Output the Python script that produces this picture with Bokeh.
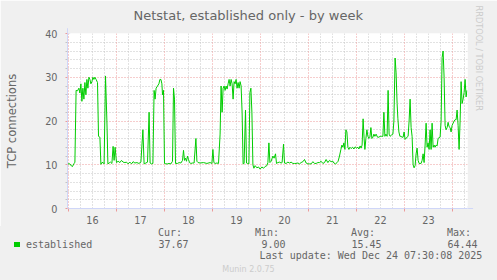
import numpy as np
from bokeh.plotting import figure
from bokeh.layouts import column
from bokeh.models import Range1d, FixedTicker, Grid, Title, Arrow, NormalHead, Div
from bokeh.embed import file_html
from bokeh.resources import INLINE

# ---------------- data ----------------
title_text = "Netstat, established only - by week"
y_label = "TCP connections"
series_name = "established"
day_labels = ["16", "17", "18", "19", "20", "21", "22", "23"]
y_tick_values = [0, 10, 20, 30, 40]

# hours since 2025-12-15 23:30
hours = [
    0, 1.2, 2.0, 2.5, 3.2, 3.7, 4.3, 5.0, 5.7, 6.2, 6.7, 7.2, 7.7, 8.2, 8.7, 9.2, 9.7,
    10.2, 10.7, 11.2, 11.7, 12.2, 12.7, 13.2, 13.7, 14.3, 15.0, 15.5, 16.2, 16.7, 17.2,
    17.8, 18.3, 19.0, 19.7, 20.2, 20.8, 21.5, 22.2, 22.8, 23.3, 23.8, 24.5, 25.3, 26.2,
    27.0, 27.8, 28.7, 29.5, 30.3, 31.2, 32.0, 32.8, 33.7, 34.7, 35.7, 36.7, 37.7, 38.3,
    39.2, 40.0, 40.8, 41.3, 42.0, 42.7, 43.3, 43.8, 44.3, 45.0, 45.7, 46.2, 46.7, 47.2,
    47.5, 48.0, 48.5, 49.2, 50.0, 50.8, 51.7, 52.5, 53.0, 53.5, 54.0, 55.0, 55.8, 56.7,
    57.5, 58.0, 58.5, 59.0, 59.5, 60.0, 60.5, 61.0, 61.7, 62.5, 63.3, 64.2, 64.7, 65.3,
    66.3, 68.0, 69.7, 71.3, 72.2, 72.7, 73.2, 73.8, 74.7, 75.5, 76.3, 76.8, 77.3, 77.8,
    78.3, 78.8, 79.3, 79.8, 80.3, 80.8, 81.3, 81.8, 82.3, 82.8, 83.3, 83.8, 84.3, 84.8,
    85.3, 85.8, 86.3, 86.8, 87.3, 87.8, 88.3, 89.0, 89.5, 90.0, 90.7, 91.2, 91.7, 92.2,
    92.7, 93.2, 93.8, 94.7, 95.5, 96.3, 97.2, 98.0, 98.8, 99.7, 100.2, 100.7, 101.2,
    101.8, 102.7, 103.3, 104.0, 104.5, 105.2, 106.0, 106.8, 107.3, 108.0, 108.5, 109.3,
    110.2, 111.0, 111.8, 112.7, 113.5, 114.3, 115.2, 116.0, 116.8, 117.7, 118.5, 119.3,
    120.2, 121.0, 121.8, 122.7, 123.5, 124.3, 125.2, 126.0, 126.8, 127.7, 128.5, 129.3,
    130.2, 131.0, 131.8, 132.7, 133.2, 134.0, 134.8, 135.3, 136.0, 136.7, 137.2, 137.7,
    138.2, 138.7, 139.2, 139.7, 140.2, 140.7, 141.2, 141.8, 142.5, 143.2, 143.8, 144.5,
    145.2, 145.7, 146.3, 146.8, 147.3, 147.8, 148.3, 148.7, 149.2, 149.7, 150.2, 150.7,
    151.2, 151.7, 152.2, 152.7, 153.2, 153.7, 154.3, 155.0, 155.7, 156.3, 157.0, 157.7,
    158.2, 158.7, 159.2, 159.8, 160.3, 160.8, 161.3, 162.0, 162.7, 163.2, 163.8, 164.3,
    164.8, 165.2, 165.7, 166.2, 166.7, 167.3, 167.8, 168.3, 168.8, 169.3, 169.8, 170.3,
    170.8, 171.3, 171.8, 172.3, 172.8, 173.3, 173.8, 174.3, 174.8, 175.3, 175.8, 176.3,
    176.8, 177.3, 177.8, 178.3, 178.8, 179.3, 179.8, 180.3, 180.8, 181.3, 181.8, 182.3,
    182.8, 183.3, 183.8, 184.3, 184.8, 185.3, 185.8, 186.3, 186.8, 187.3, 187.8, 188.3,
    188.8, 189.3, 189.8, 190.3, 190.8, 191.3, 191.8, 192.3, 192.8, 193.3, 193.8, 194.3,
    194.8, 195.3, 195.8, 196.3, 196.8, 197.3, 197.8, 198.3, 198.8, 199.3, 199.7,
]
conns = [
    10.2, 10.2, 9.7, 9.6, 10.3, 10.5, 27.0, 26.9, 27.5, 26.4, 28.5, 24.5, 27.5, 25.0, 28.8, 26.0, 29.5,
    27.5, 30.0, 29.5, 28.5, 29.0, 30.0, 29.5, 30.0, 29.5, 28.8, 16.5, 16.3, 10.1, 10.5,
    10.5, 10.2, 30.3, 20.0, 10.2, 10.4, 10.6, 10.3, 14.2, 11.0, 14.0, 10.5, 10.8, 10.5,
    11.0, 10.6, 10.5, 10.6, 10.2, 10.6, 10.2, 10.7, 10.4, 10.5, 10.3, 10.6, 18.0, 10.2,
    10.4, 10.6, 22.0, 10.4, 10.2, 10.3, 27.0, 25.0, 27.5, 28.0, 28.5, 29.5, 29.5, 28.5,
    26.0, 27.0, 10.3, 10.2, 10.2, 10.3, 10.2, 10.8, 27.5, 25.0, 10.3, 10.3, 10.5, 10.4,
    11.0, 13.3, 11.0, 11.5, 10.8, 12.0, 11.2, 10.5, 10.3, 10.4, 10.4, 16.0, 10.8, 10.5,
    10.4, 10.5, 10.3, 10.5, 10.3, 13.5, 10.5, 10.3, 10.4, 10.3, 17.0, 28.0, 22.0, 27.5,
    28.0, 27.0, 28.0, 27.3, 28.5, 29.5, 28.0, 29.5, 28.5, 25.0, 29.0, 28.5, 29.5, 27.5,
    28.8, 27.5, 29.0, 28.0, 22.0, 10.2, 10.3, 22.5, 10.4, 10.3, 10.2, 26.5, 27.5, 22.0,
    10.0, 9.2, 9.8, 9.3, 9.5, 9.0, 9.5, 9.2, 9.6, 9.8, 10.5, 15.0, 10.5,
    10.8, 12.0, 11.5, 12.5, 10.3, 10.5, 10.6, 10.4, 10.5, 14.7, 10.4, 10.3,
    10.6, 10.4, 10.6, 10.3, 10.3, 10.3, 10.4, 10.2, 10.5, 10.7, 11.2, 10.4,
    10.2, 10.2, 10.2, 10.7, 10.3, 10.3, 10.5, 10.5, 10.8, 10.3, 10.5, 11.2,
    10.5, 11.0, 10.7, 10.8, 10.4, 10.2, 10.5, 10.8, 12.0, 13.5, 14.5, 14.0,
    15.0, 13.5, 18.0, 17.5, 14.0, 13.5, 14.0, 13.7, 14.0, 13.6, 14.1, 13.8,
    14.0, 13.6, 14.3, 13.8, 14.5, 20.5, 16.0, 13.5, 16.0, 18.0, 16.5, 16.0,
    16.3, 18.5, 16.0, 16.3, 17.0, 16.5, 17.0, 16.3, 16.3, 16.5, 16.5, 16.5,
    22.0, 16.5, 17.0, 16.5, 27.0, 17.0, 16.5, 16.8, 17.0, 20.0, 34.4, 31.0,
    24.0, 20.5, 17.5, 16.5, 16.5, 16.3, 16.3, 17.5, 15.8, 16.1, 16.3, 16.5,
    20.0, 25.0, 18.5, 16.5, 10.0, 9.3, 9.8, 12.5, 13.8, 11.0, 10.3, 10.3,
    10.3, 11.0, 12.5, 10.5, 14.5, 19.5, 14.0, 15.0, 13.5, 18.0, 13.5, 19.5,
    14.0, 14.5, 14.0, 14.5, 14.3, 16.0, 16.2, 16.3, 20.0, 34.5, 36.0, 30.0,
    19.0, 18.0, 18.5, 19.7, 18.7, 18.5, 17.5, 19.0, 19.5, 20.0, 20.3, 20.3,
    22.5, 19.0, 13.5, 20.0, 29.0, 24.0, 25.0, 26.5, 29.5, 25.5, 27.0,
]
stat_names = ["Cur:", "Min:", "Avg:", "Max:"]
stat_values = [37.67, 9.00, 15.45, 64.44]
last_update = "Last update: Wed Dec 24 07:30:08 2025"
footer_text = "Munin 2.0.75"
watermark_text = "RRDTOOL / TOBI OETIKER"

X_SPAN = (0.0, 200.0)
Y_SPAN = (0.0, 40.0)

# ---------------- layout / style ----------------
W = 497
TOP_H = 226          # main figure height
BOT_H = 280 - TOP_H  # legend strip height
FL, FT, FW, FH = 67, 33, 400, 175
FB = FT + FH
BG = "#f0f0f0"
FONT = "#666666"
AXIS = "#CFD6F8"
GRID = "#c4c4c4"
MGRID = "#ec9a9a"
LINE = "#00cc00"

p = figure(width=W, height=TOP_H, output_backend="svg", toolbar_location=None,
           x_range=Range1d(*X_SPAN), y_range=Range1d(*Y_SPAN),
           min_border_left=FL, min_border_right=W - FL - FW,
           min_border_top=FT, min_border_bottom=TOP_H - FB,
           background_fill_color="#ffffff", border_fill_color=BG,
           outline_line_color=None, margin=0)

p.title.text = title_text
p.title.align = "left"
p.title.offset = 133 - FL
p.title.vertical_align = "top"
p.title.standoff = 15.5
p.title.text_font = "DejaVu Sans"
p.title.text_font_size = "13px"
p.title.text_font_style = "normal"
p.title.text_color = FONT

p.add_layout(Title(text=watermark_text, align="left", offset=-28, standoff=13,
                   text_font="DejaVu Sans", text_font_size="8.2px",
                   text_font_style="normal", text_color="#cccccc"), "right")

p.xgrid.visible = False
p.ygrid.visible = False

midnights = list(np.arange(X_SPAN[0] + 0.5, X_SPAN[1], 24.0))
quarter_days = [h for h in np.arange(X_SPAN[0] + 0.5, X_SPAN[1], 6.0) if (h - 0.5) % 24 != 0]
noon_ticks = [12.5 + 24.0 * i for i in range(len(day_labels))]
y_minor = [v for v in range(2, 40, 2) if v % 10]
y_major = [v for v in y_tick_values if v > 0]

p.add_layout(Grid(dimension=0, ticker=FixedTicker(ticks=quarter_days),
                  grid_line_color=GRID, grid_line_dash="1 2"))
p.add_layout(Grid(dimension=1, ticker=FixedTicker(ticks=y_minor),
                  grid_line_color=GRID, grid_line_dash="1 2"))
p.add_layout(Grid(dimension=0, ticker=FixedTicker(ticks=midnights),
                  grid_line_color=MGRID, grid_line_dash="1 2"))
p.add_layout(Grid(dimension=1, ticker=FixedTicker(ticks=y_major),
                  grid_line_color=MGRID, grid_line_dash="1 2"))

p.line(hours, conns, line_color=LINE, line_width=1)

# x axis
xa = p.xaxis[0]
xa.ticker = FixedTicker(ticks=noon_ticks, minor_ticks=midnights)
xa.major_label_overrides = {t: lab for t, lab in zip(noon_ticks, day_labels)}
xa.major_tick_line_color = None
xa.major_tick_out = 0
xa.major_tick_in = 0
xa.minor_tick_line_color = MGRID
xa.minor_tick_out = 3
xa.minor_tick_in = 0
xa.axis_line_color = AXIS
xa.major_label_standoff = 4
xa.major_label_text_font = "DejaVu Sans"
xa.major_label_text_font_size = "9.7px"
xa.major_label_text_color = FONT

# y axis
ya = p.yaxis[0]
ya.ticker = FixedTicker(ticks=y_tick_values, minor_ticks=y_minor)
ya.major_tick_line_color = MGRID
ya.major_tick_out = 2
ya.major_tick_in = 0
ya.minor_tick_line_color = GRID
ya.minor_tick_out = 2
ya.minor_tick_in = 0
ya.axis_line_color = AXIS
ya.major_label_standoff = 8
ya.major_label_text_font = "DejaVu Sans"
ya.major_label_text_font_size = "9.7px"
ya.major_label_text_color = FONT
ya.axis_label = y_label
ya.axis_label_standoff = 23
ya.axis_label_text_font = "DejaVu Sans"
ya.axis_label_text_font_size = "11.5px"
ya.axis_label_text_font_style = "normal"
ya.axis_label_text_color = FONT

# axis arrows
p.add_layout(Arrow(x_start=X_SPAN[0], y_start=Y_SPAN[0], x_end=X_SPAN[0], y_end=Y_SPAN[1] * 1.03,
                   line_color=AXIS, line_width=1,
                   end=NormalHead(size=5, fill_color=AXIS, line_color=AXIS)))
p.add_layout(Arrow(x_start=X_SPAN[0], y_start=Y_SPAN[0], x_end=X_SPAN[1] * 1.014, y_end=Y_SPAN[0],
                   line_color=AXIS, line_width=1,
                   end=NormalHead(size=5, fill_color=AXIS, line_color=AXIS)))

# ---------------- legend strip (HTML, pixel positions inside the strip) ----------------
MONO = "font-family:'DejaVu Sans Mono';font-size:10px;line-height:10px;color:%s;" % FONT


def span_left(text, left, top):
    return ('<span style="position:absolute;left:%.1fpx;top:%.1fpx;white-space:pre;%s">%s</span>'
            % (left, top, MONO, text))


def span_right(text, right_edge, top):
    return ('<span style="position:absolute;right:%.1fpx;top:%.1fpx;white-space:pre;%s">%s</span>'
            % (W - right_edge, top, MONO, text))


head_x = [158, 255, 351, 447]
parts = []
parts.append('<span style="position:absolute;left:14px;top:15.7px;width:6px;height:5.7px;'
             'background:%s;"></span>' % LINE)
parts.append(span_left(series_name, 26, 13.8))
for name, val, hx in zip(stat_names, stat_values, head_x):
    parts.append(span_left(name, hx, 2.2))
    parts.append(span_right(f"{val:.2f}", hx + 30.5, 13.8))
parts.append(span_right(last_update, 482.3, 24.8))
parts.append('<span style="position:absolute;left:0;top:39.9px;width:%dpx;text-align:center;'
             'white-space:pre;font-family:\'DejaVu Sans\';font-size:8px;line-height:8px;'
             'color:#cccccc;">%s</span>' % (W, footer_text))

html = ('<div style="position:relative;width:%dpx;height:%dpx;background:%s;overflow:hidden;'
        'margin:0;padding:0;">%s</div>' % (W, BOT_H, BG, "".join(parts)))
strip = Div(text=html, width=W, height=BOT_H, margin=0,
            styles={"background-color": BG, "padding": "0", "margin": "0"})

layout = column(p, strip, spacing=0)
open("out.html", "w").write(file_html(layout, INLINE))
